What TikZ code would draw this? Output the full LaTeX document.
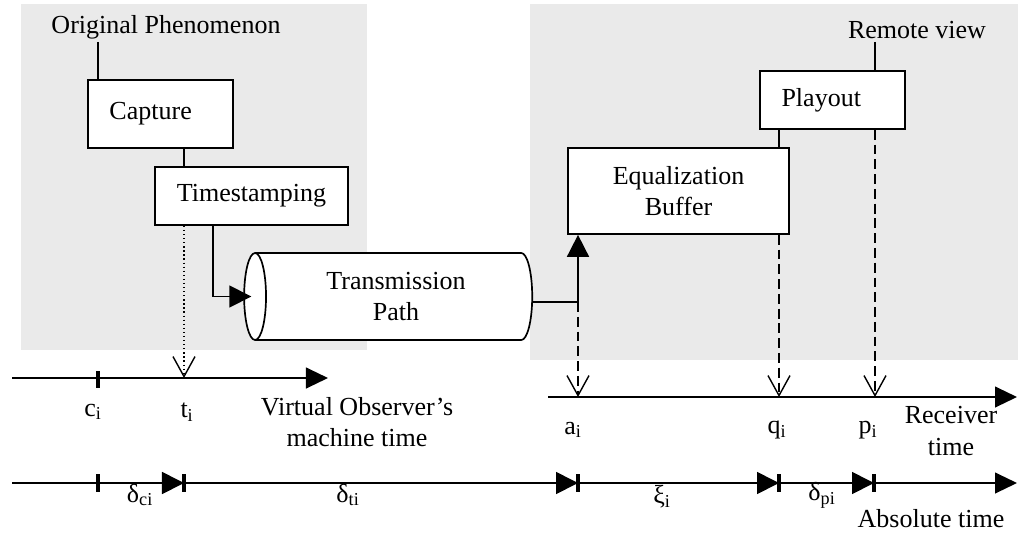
\documentclass[tikz,border=0pt]{standalone}
\usepackage{fontspec}
\setmainfont{Liberation Serif}
\usetikzlibrary{shapes.geometric,arrows.meta,calc}
\definecolor{panel}{RGB}{234,234,234}
\tikzset{
  txt/.style={font=\fontsize{18.5}{22.5}\selectfont,align=center,inner sep=2pt},
  box/.style={txt,draw,fill=white,line width=1.2pt,inner sep=3pt},
  pipe/.style={txt,draw,fill=white,line width=1.2pt,cylinder,shape border rotate=180,aspect=0.4,minimum width=21.75mm,minimum height=72mm},
  link/.style={line width=1.2pt},
  arr/.style={link,-{Triangle[length=5.5mm,width=5.5mm]}},
  vee/.style={-{Straight Barb[length=5mm,width=5.5mm,line width=1pt]}},
  dashline/.style={line width=1pt,dash pattern=on 7pt off 3.5pt},
  axis/.style={line width=1.2pt,-{Triangle[length=5.5mm,width=5.2mm]}},
  tick/.style={line width=2.2pt}
}
\begin{document}
\begin{tikzpicture}[x=0.025cm,y=-0.025cm]
\useasboundingbox (0,0) rectangle (1018,534);
% shaded areas
\fill[panel] (21,4) rectangle (367,350);
\fill[panel] (530,4) rectangle (1018,360);

% sender side
\node[txt] (orig) at (166,27) {Original Phenomenon};
\node[box,minimum width=36.25mm,minimum height=17mm] (cap) at (160.5,114) {Capture\hspace{14pt}};
\node[box,minimum width=48.25mm,minimum height=14.5mm] (ts) at (251.5,196) {Timestamping};
\node[pipe] (tp) at (396,296.5) {Transmission\\Path};

% receiver side
\node[box,minimum width=55.25mm,minimum height=21.5mm] (eq) at (678.5,191) {Equalization\\Buffer};
\node[box,minimum width=36.25mm,minimum height=14.5mm] (play) at (832.5,100) {Playout\hspace{16pt}};
\node[txt] (rem) at (917,30) {Remote view};

% time axes
\coordinate (ti) at (184,378);
\coordinate (jn) at (578,302);
\coordinate (ra) at (578,397);
\coordinate (rq) at (779,397);
\coordinate (rp) at (875,397);
\draw[axis] (12,378) -- (328,378);
\draw[tick] (98,371) -- (98,388);
\draw[axis] (548,397) -- (1017,397);
\draw[axis] (12,483) -- (1017,483);
\foreach \x in {98,184,578,779,874} \draw[tick] (\x,474) -- (\x,492);
\foreach \x in {184,578,779,874} \draw[arr] (\x-28,483) -- (\x,483);

% connectors
\draw[link] (orig.south -| 98,0) -- (cap.north -| 98,0);
\draw[link] (cap.south -| 184,0) -- (ts.north -| 184,0);
\draw[line width=0.9pt,dotted,vee] (ts.south -| 184,0) -- (ti);
\draw[arr] (ts.south -| 213,0) |- ([xshift=2mm]tp.west);
\draw[arr] (tp.east |- jn) -- (jn) -- (eq.south -| jn);
\draw[dashline,vee] (jn) -- (ra);
\draw[link] (eq.north -| 779,0) -- (play.south -| 779,0);
\draw[link] (rem.south -| 875,0) -- (play.north -| 875,0);
\draw[dashline,vee] (eq.south -| 779,0) -- (rq);
\draw[dashline,vee] (play.south -| 875,0) -- (rp);

% labels
\node[txt] (lc) at (93,412) {c\textsubscript{i}};
\node[txt] (lt) at (187,412) {t\textsubscript{i}};
\node[txt] (lv) at (357,422) {Virtual Observer’s\\machine time};
\node[txt] (la) at (573,430) {a\textsubscript{i}};
\node[txt] (lq) at (777,430) {q\textsubscript{i}};
\node[txt] (lp) at (868,430) {p\textsubscript{i}};
\node[txt] (lr) at (951,431) {Receiver\\time};
\node[txt] (dc) at (140,495) {δ\textsubscript{ci}};
\node[txt] (dt) at (348,495) {δ\textsubscript{ti}};
\node[txt] (xi) at (662,497) {ξ\textsubscript{i}};
\node[txt] (dp) at (822,495) {δ\textsubscript{pi}};
\node[txt] (labs) at (931,519) {Absolute time};
\end{tikzpicture}
\end{document}
